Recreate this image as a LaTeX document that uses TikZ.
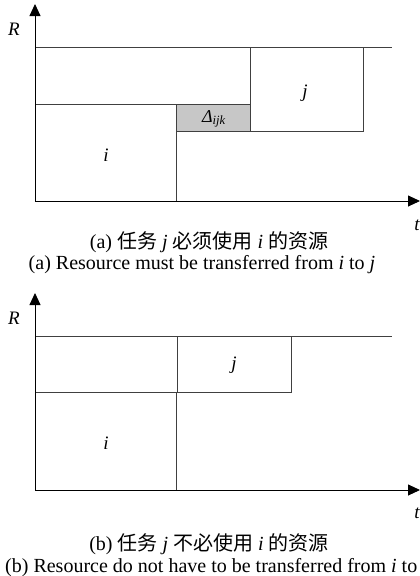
\documentclass[tikz,border=0pt]{standalone}
\usepackage{fontspec}
\setmainfont{Liberation Serif}
\newfontfamily\cjk{Noto Sans CJK SC}
\usetikzlibrary{arrows.meta}
\tikzset{
  axis/.style={draw=black, line width=0.9pt, -{Triangle[length=12pt,width=11pt]}},
  frame/.style={draw=black!75, line width=0.9pt},
  shadebox/.style={frame, fill=black!22},
  lab/.style={font=\fontsize{19}{19}\selectfont\itshape, inner sep=0pt},
  captext/.style={font=\fontsize{20}{20}\selectfont, inner sep=0pt},
}
\begin{document}
\begin{tikzpicture}[x=1pt,y=-1pt]
\useasboundingbox (0,0) rectangle (420,576);
% ---------- panel (a) ----------
\coordinate (aO) at (35,201);
\coordinate (aY) at (35,4);
\coordinate (aX) at (420,201);
\draw[frame] (35,47) -- (392,47);
\draw[frame] (35,104) rectangle (176,201);
\draw[frame] (35,104) -- (176,104);
\draw[shadebox] (176,104) rectangle (250,131);
\draw[frame] (250,47) rectangle (363,131);
\draw[axis] (aO) -- (aY);
\draw[axis] (aO) -- (aX);
\node[lab] (aR) at (14,29) {R};
\node[lab] (at) at (417,225) {t};
\node[lab] (ai) at (106,155) {i};
\node[lab] (aj) at (305,93) {j};
\node[lab, font=\fontsize{18}{18}\selectfont\itshape] (ad) at (214,119) {Δ\textsubscript{ijk}};
\node[captext] (acap1) at (209,242) {(a) {\cjk 任务} \textit{j} {\cjk 必须使用} \textit{i} {\cjk 的资源}};
\node[captext] (acap2) at (202,265) {(a) Resource must be transferred from \textit{i} to \textit{j}};
% ---------- panel (b) ----------
\coordinate (bO) at (35,490);
\coordinate (bY) at (35,293);
\coordinate (bX) at (420,490);
\draw[frame] (35,336) -- (392,336);
\draw[frame] (35,392) rectangle (176,490);
\draw[frame] (177,336) rectangle (291,392);
\draw[axis] (bO) -- (bY);
\draw[axis] (bO) -- (bX);
\node[lab] (bR) at (14,318) {R};
\node[lab] (bt) at (417,513) {t};
\node[lab] (bi) at (106,443) {i};
\node[lab] (bj) at (234,365) {j};
\node[captext] (bcap1) at (209,544) {(b) {\cjk 任务} \textit{j} {\cjk 不必使用} \textit{i} {\cjk 的资源}};
\node[captext, anchor=west] (bcap2) at (5,568) {(b) Resource do not have to be transferred from \textit{i} to};
\end{tikzpicture}
\end{document}
